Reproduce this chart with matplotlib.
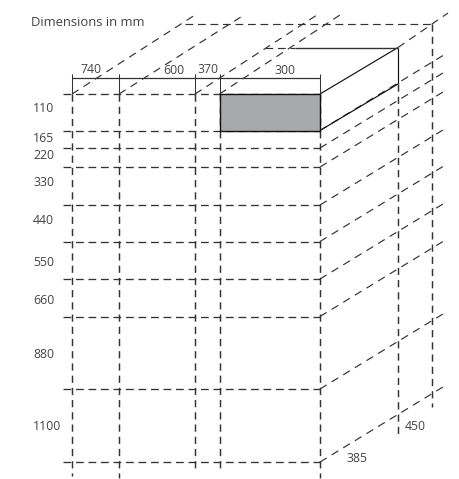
import matplotlib
matplotlib.use("Agg")
import matplotlib.pyplot as plt

plt.rcParams['font.family'] = ['Open Sans', 'DejaVu Sans']
plt.rcParams['lines.scale_dashes'] = False

W, H = 459, 479
# Diagram values (labels) and their positions on the drawing
height_labels = ["110", "165", "220", "330", "440", "550", "660", "880", "1100"]
height_label_y = [108.5, 139, 155.5, 183, 221, 262, 301, 355, 426]
width_labels = ["740", "600", "370", "300"]
width_label_x = [90.5, 173.5, 208, 285]
width_label_y = [69.5, 70.5, 69.5, 70]
depth_labels = ["450", "385"]
depth_label_x = [415, 357]
depth_label_y = [426, 459]

col_x = [72, 119, 195, 219.5, 320]
col_bottom = [476, 478, 470, 470, 478]
col_diag_end_x = [195, 244, 320, 343]
col_diag_end_y = [15, 15, 13, 13]
row_y = [94, 130.5, 148, 167, 205, 241.5, 279, 316.5, 389, 462]
row_start_x = 63
diag_end_x = 446
diag_slope = 0.61
back_x = [398, 432]
back_top = [84, 24]
back_bottom = [437, 407]
box_back_top = 47.5
box_back_left = 295

INK = "#444444"
BLACK = "#111111"
DASH_H = (0, (5.6, 3.4))
DASH_V = (0, (5.2, 3.6))
DASH_D = (0, (5.6, 4.2))
LW = 0.95

fig = plt.figure(figsize=(W / 100, H / 100), dpi=100)
ax = fig.add_axes([0, 0, 1, 1])
ax.set_xlim(0, W)
ax.set_ylim(H, 0)
ax.axis("off")

def dashed(xs, ys, ls, lw=LW, color="#333333"):
    ax.plot(xs, ys, color=color, lw=lw, ls=ls, solid_capstyle="butt", dash_capstyle="butt", zorder=2)

def solid(xs, ys, lw=LW, color=BLACK):
    ax.plot(xs, ys, color=color, lw=lw, solid_capstyle="butt", zorder=4)

# front grid
for y in row_y:
    dashed([row_start_x, col_x[-1]], [y, y], DASH_H)
for x, b in zip(col_x, col_bottom):
    dashed([x, x], [row_y[0], b], DASH_V, lw=1.05)

# receding lines
for y in row_y[1:]:
    dashed([col_x[-1], diag_end_x], [y, y - (diag_end_x - col_x[-1]) * diag_slope], DASH_D, lw=0.85)
for x, ex, ey in zip(col_x[:-1], col_diag_end_x, col_diag_end_y):
    dashed([x, ex], [row_y[0], ey], DASH_D, lw=0.85)
dashed([back_x[0], 448], [box_back_top, 13], DASH_D, lw=0.85)

# back frame
for x, t, b in zip(back_x, back_top, back_bottom):
    dashed([x, x], [t, b], DASH_V, lw=1.05)
dashed([185, back_x[1]], [back_top[1], back_top[1]], DASH_H, lw=0.85)
dashed([265, box_back_left], [box_back_top, box_back_top], DASH_H, lw=0.85)

# shelf box
ax.fill_between(col_x[3:5], row_y[0], row_y[1], color="#a7a9ac", lw=0, zorder=3)
solid([col_x[3], col_x[4], col_x[4], col_x[3], col_x[3]],
      [row_y[0], row_y[0], row_y[1], row_y[1], row_y[0]], lw=1.0)
solid([col_x[4], back_x[0]], [row_y[0], box_back_top], lw=0.85)
solid([col_x[4], back_x[0]], [row_y[1], back_top[0]], lw=0.85)
solid([box_back_left, back_x[0]], [box_back_top, box_back_top], lw=1.0, color="#333333")
solid([back_x[0], back_x[0]], [box_back_top, back_top[0]], lw=0.85)

# dimension line
solid([col_x[0], col_x[-1]], [78, 78], lw=0.9, color="#333333")
for x in col_x:
    solid([x, x], [74, 94], lw=0.75, color="#333333")

# text
ax.text(31, 22, "Dimensions in mm", fontsize=9.4, color=INK, ha="left", va="center")
for s, y in zip(height_labels, height_label_y):
    ax.text(33, y, s, fontsize=8.8, color=INK, ha="left", va="center")
for s, x, y in zip(width_labels, width_label_x, width_label_y):
    ax.text(x, y, s, fontsize=8.8, color=INK, ha="center", va="center", zorder=5)
for s, x, y in zip(depth_labels, depth_label_x, depth_label_y):
    ax.text(x, y, s, fontsize=8.8, color=INK, ha="center", va="center")

fig.savefig("out.png", dpi=100, facecolor="white")
